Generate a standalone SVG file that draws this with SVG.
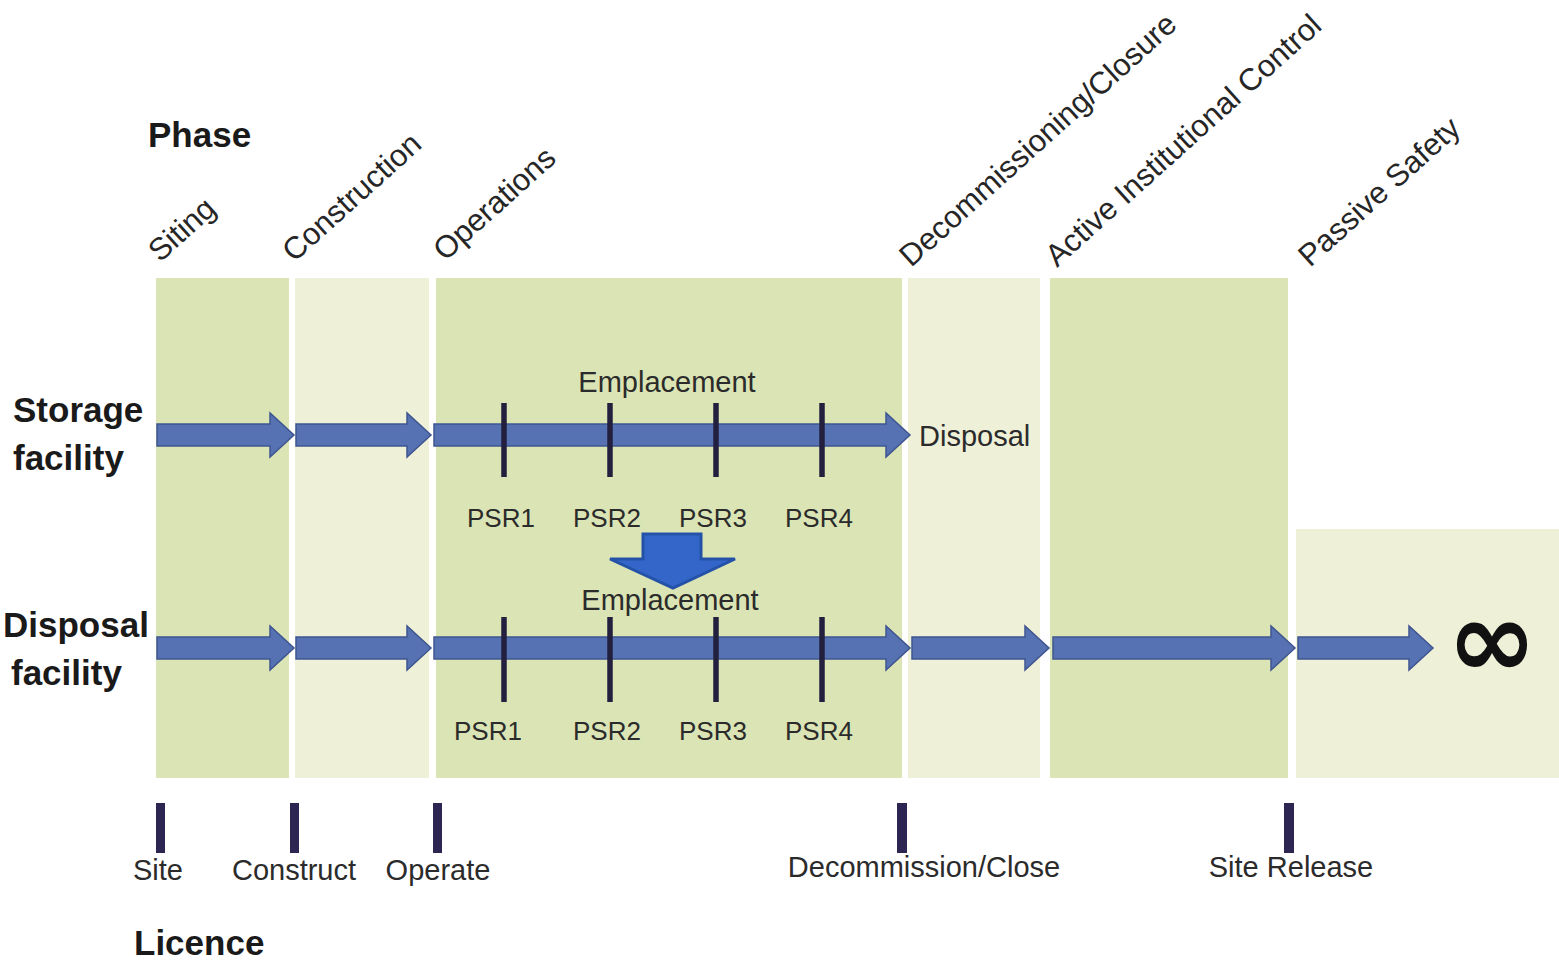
<svg xmlns="http://www.w3.org/2000/svg" width="1559" height="965" viewBox="0 0 1559 965">
<style>
  .dark { fill: #dbe4b4; }
  .light { fill: #eff0d8; }
  .arrow { fill: #5672b2; stroke: #3f5590; stroke-width: 1.5; }
  .tick { stroke: #23203f; stroke-width: 5.5; }
  .lic { fill: #2d2552; }
  .bold { font-family: "Liberation Sans", Arial, sans-serif; font-weight: bold; font-size: 35px; fill: #1a1a1a; }
  .phase { font-family: "Liberation Sans", Arial, sans-serif; font-size: 31px; fill: #262626; }
  .lbl { font-family: "Liberation Sans", Arial, sans-serif; font-size: 29px; fill: #2b2b2b; }
  .psr { font-family: "Liberation Sans", Arial, sans-serif; font-size: 26px; fill: #2b2b2b; text-anchor: middle; }
</style>
<rect width="1559" height="965" fill="#ffffff"/>

<g id="panels">
  <rect id="panel-siting" class="dark" x="156" y="278" width="133" height="500"/>
  <rect id="panel-construction" class="light" x="295" y="278" width="134" height="500"/>
  <rect id="panel-operations" class="dark" x="436" y="278" width="466" height="500"/>
  <rect id="panel-decommissioning" class="light" x="908" y="278" width="132" height="500"/>
  <rect id="panel-active" class="dark" x="1050" y="278" width="238" height="500"/>
  <rect id="panel-passive" class="light" x="1296" y="529" width="263" height="249"/>
</g>

<g id="headings">
  <text id="phase-title" class="bold" x="148" y="147">Phase</text>
  <text id="licence-title" class="bold" x="134" y="955">Licence</text>
  <text id="storage-title" class="bold"><tspan x="13" y="422">Storage</tspan><tspan x="13" y="470">facility</tspan></text>
  <text id="disposal-title" class="bold"><tspan x="3" y="637">Disposal</tspan><tspan x="11" y="685">facility</tspan></text>
</g>

<g id="phase-labels">
  <text class="phase" transform="translate(160,263) rotate(-42)">Siting</text>
  <text class="phase" transform="translate(294,263) rotate(-42)">Construction</text>
  <text class="phase" transform="translate(445,262) rotate(-42)">Operations</text>
  <text class="phase" transform="translate(911,268) rotate(-42)">Decommissioning/Closure</text>
  <text class="phase" transform="translate(1057,268) rotate(-42)">Active Institutional Control</text>
  <text class="phase" transform="translate(1310,268) rotate(-42)">Passive Safety</text>
</g>

<g id="connectors">
  <!-- storage row -->
  <polygon class="arrow" points="157,424 270,424 270,413 294,435 270,457 270,446 157,446"/>
  <polygon class="arrow" points="296,424 407,424 407,413 431,435 407,457 407,446 296,446"/>
  <polygon class="arrow" points="434,424 886,424 886,413 910,435 886,457 886,446 434,446"/>
  <!-- disposal row -->
  <polygon class="arrow" points="157,637 270,637 270,626 294,648 270,670 270,659 157,659"/>
  <polygon class="arrow" points="296,637 407,637 407,626 431,648 407,670 407,659 296,659"/>
  <polygon class="arrow" points="434,637 886,637 886,626 910,648 886,670 886,659 434,659"/>
  <polygon class="arrow" points="912,637 1025,637 1025,626 1049,648 1025,670 1025,659 912,659"/>
  <polygon class="arrow" points="1053,637 1271,637 1271,626 1295,648 1271,670 1271,659 1053,659"/>
  <polygon class="arrow" points="1298,637 1409,637 1409,626 1433,648 1409,670 1409,659 1298,659"/>
  <!-- transfer arrow -->
  <polygon points="643,534 701,534 701,559 735,559 673,588 610,559 643,559" fill="#3466c9" stroke="#2452a8" stroke-width="3" stroke-linejoin="miter"/>
</g>

<g id="psr-ticks">
  <line class="tick" x1="504" y1="403" x2="504" y2="477"/>
  <line class="tick" x1="610" y1="403" x2="610" y2="477"/>
  <line class="tick" x1="716" y1="403" x2="716" y2="477"/>
  <line class="tick" x1="822" y1="403" x2="822" y2="477"/>
  <line class="tick" x1="504" y1="617" x2="504" y2="702"/>
  <line class="tick" x1="610" y1="617" x2="610" y2="702"/>
  <line class="tick" x1="716" y1="617" x2="716" y2="702"/>
  <line class="tick" x1="822" y1="617" x2="822" y2="702"/>
</g>

<g id="row-labels">
  <text class="lbl" x="667" y="392" text-anchor="middle">Emplacement</text>
  <text class="lbl" x="670" y="610" text-anchor="middle">Emplacement</text>
  <text class="lbl" x="919" y="446">Disposal</text>
  <text class="psr" x="501" y="527">PSR1</text>
  <text class="psr" x="607" y="527">PSR2</text>
  <text class="psr" x="713" y="527">PSR3</text>
  <text class="psr" x="819" y="527">PSR4</text>
  <text class="psr" x="488" y="740">PSR1</text>
  <text class="psr" x="607" y="740">PSR2</text>
  <text class="psr" x="713" y="740">PSR3</text>
  <text class="psr" x="819" y="740">PSR4</text>
  <text x="1492" y="677" text-anchor="middle" font-family="DejaVu Sans, sans-serif" font-weight="bold" font-size="108" fill="#111111">∞</text>
</g>

<g id="licences">
  <rect class="lic" x="156" y="803" width="9" height="50"/>
  <rect class="lic" x="290" y="803" width="9" height="50"/>
  <rect class="lic" x="433" y="803" width="9" height="50"/>
  <rect class="lic" x="897" y="803" width="10" height="50"/>
  <rect class="lic" x="1284" y="803" width="10" height="50"/>
  <text class="lbl" x="158" y="880" text-anchor="middle">Site</text>
  <text class="lbl" x="294" y="880" text-anchor="middle">Construct</text>
  <text class="lbl" x="438" y="880" text-anchor="middle">Operate</text>
  <text class="lbl" x="924" y="877" text-anchor="middle">Decommission/Close</text>
  <text class="lbl" x="1291" y="877" text-anchor="middle">Site Release</text>
</g>
</svg>
